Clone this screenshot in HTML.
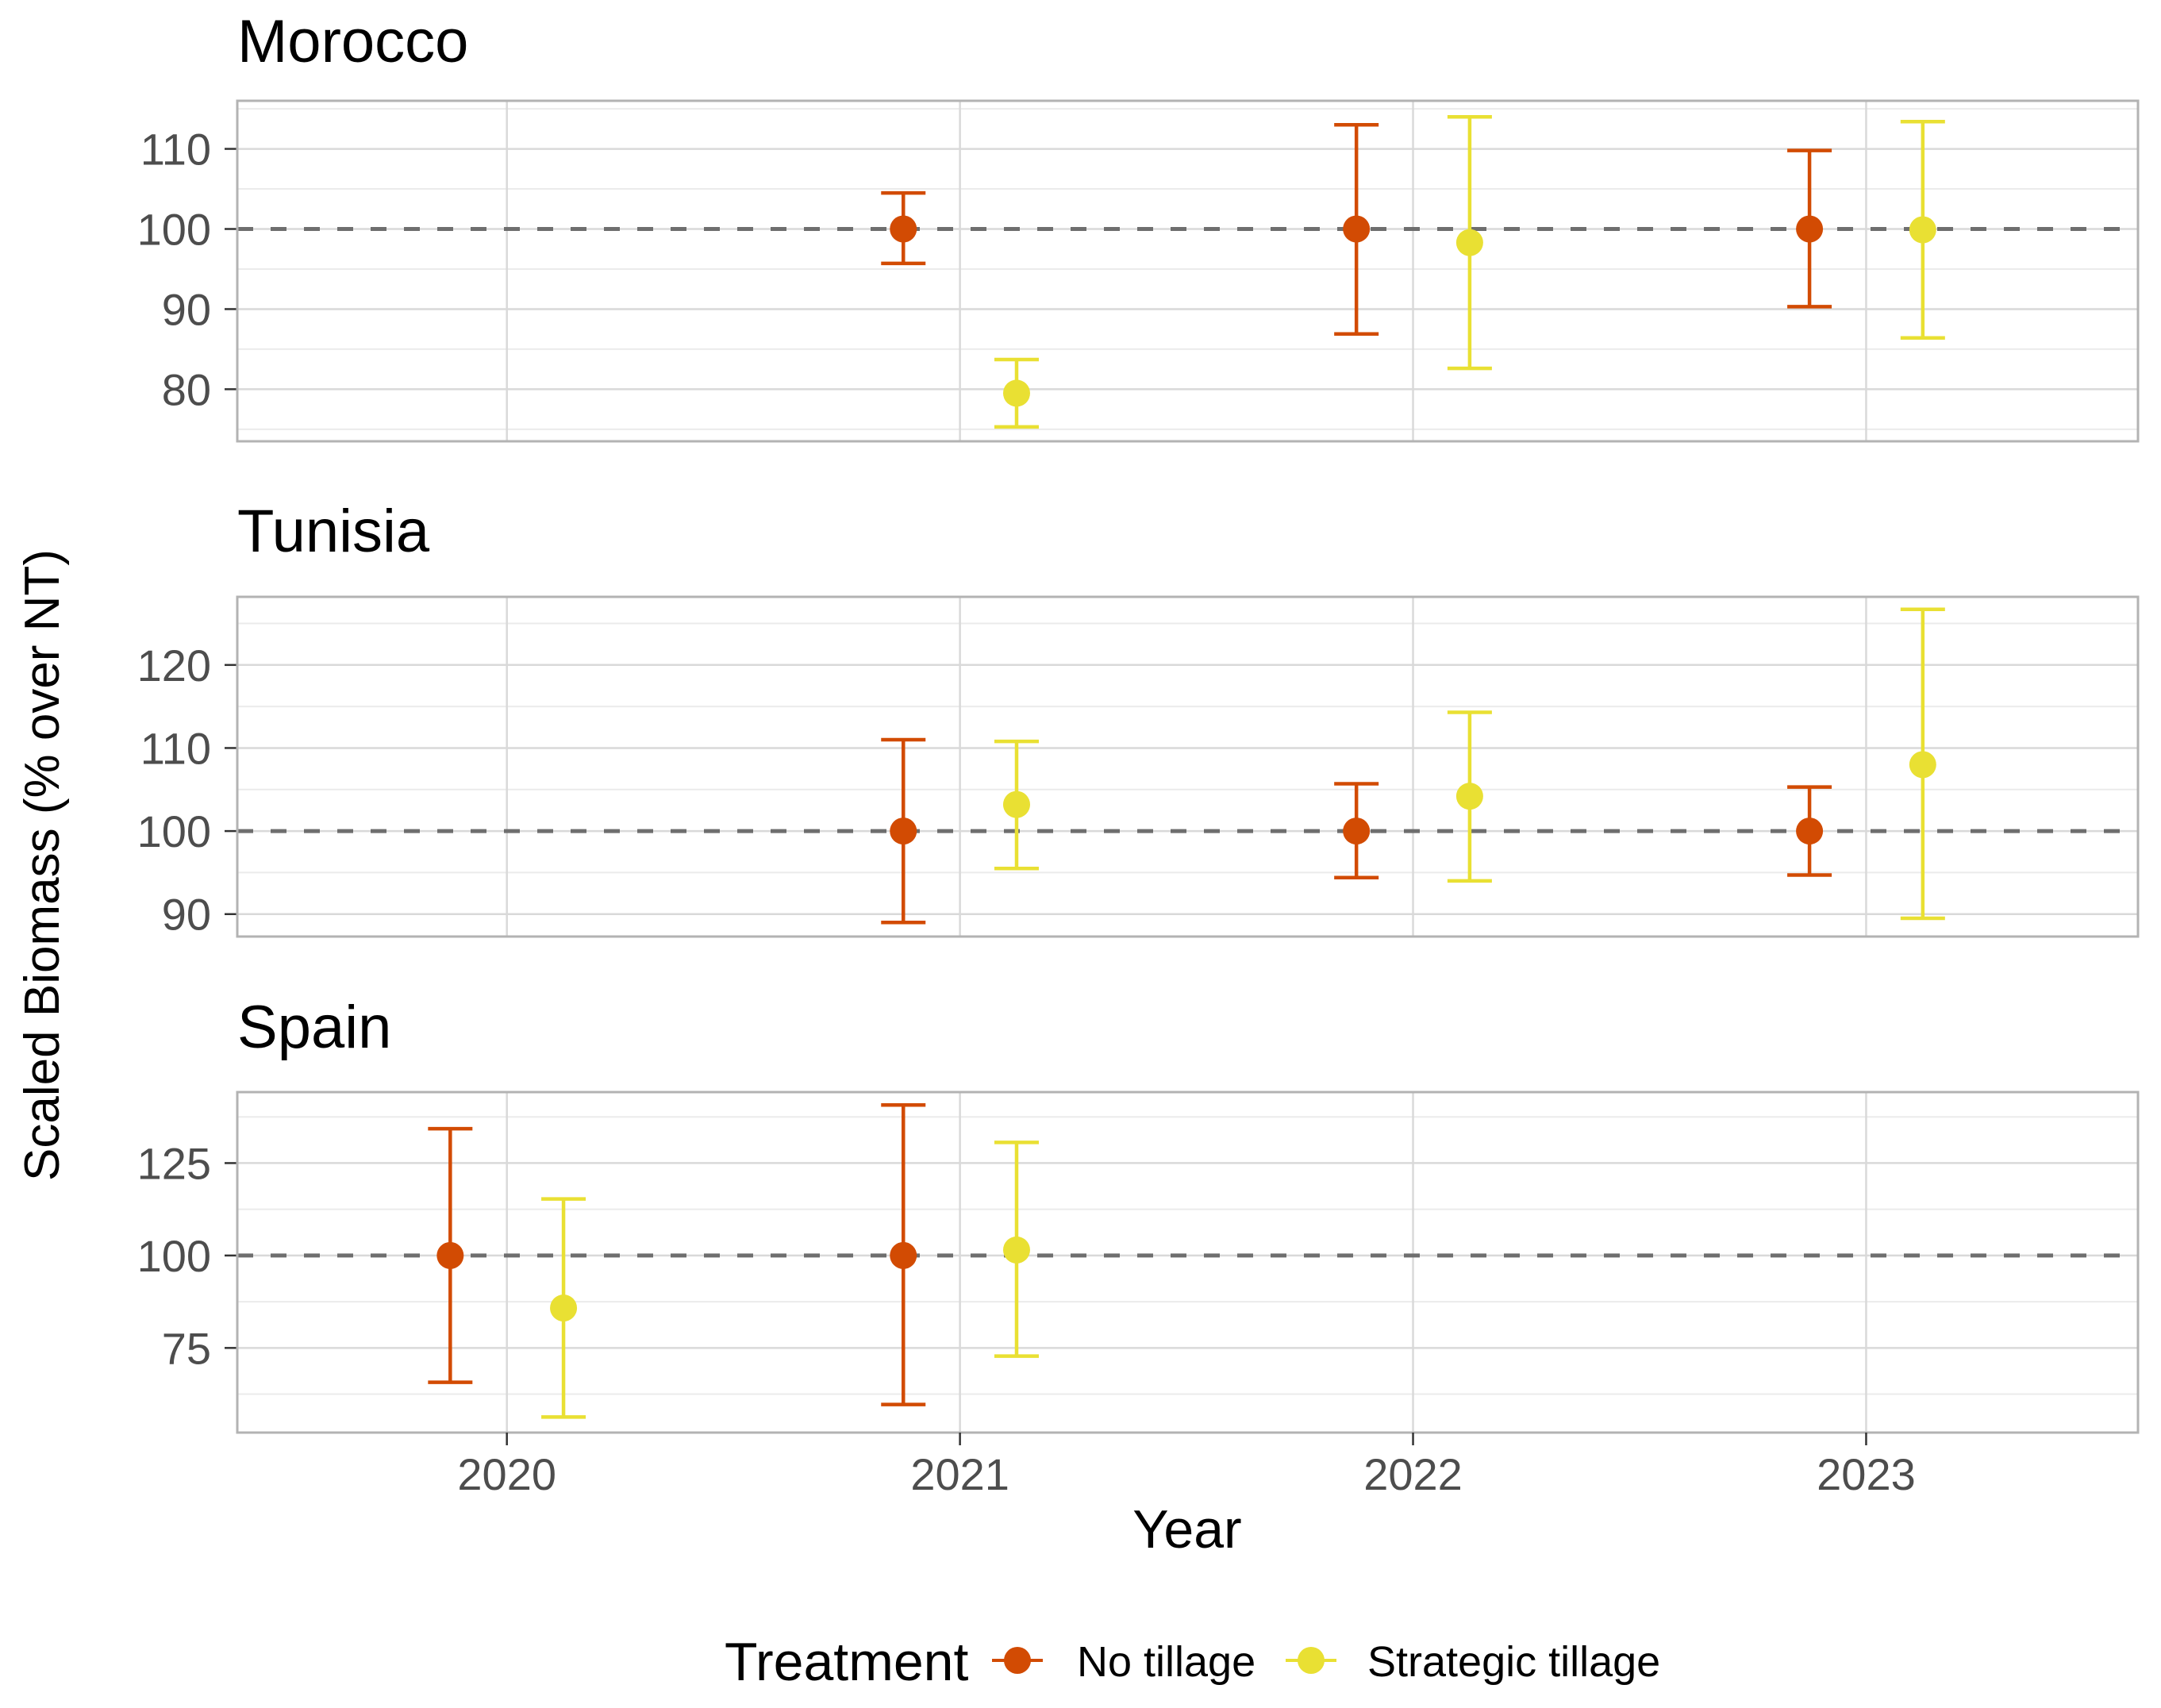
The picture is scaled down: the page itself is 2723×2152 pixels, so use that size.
<!DOCTYPE html>
<html><head><meta charset="utf-8"><style>
html,body{margin:0;padding:0;background:#fff}
svg{display:block}
text{font-family:"Liberation Sans",sans-serif}
</style></head><body>
<svg id="chart" width="2723" height="2152" viewBox="0 0 2723 2152" xmlns="http://www.w3.org/2000/svg"></svg>
<script>
const years = [2020, 2021, 2022, 2023];
const panelNames = ["Morocco", "Tunisia", "Spain"];
// per panel: [year, mean, lower, upper]
const ntMorocco = [[2021,100,95.7,104.5],[2022,100,86.9,113.0],[2023,100,90.3,109.8]];
const stMorocco = [[2021,79.5,75.3,83.7],[2022,98.3,82.6,114.0],[2023,99.9,86.4,113.4]];
const ntTunisia = [[2021,100,89.0,111.0],[2022,100,94.4,105.7],[2023,100,94.7,105.3]];
const stTunisia = [[2021,103.2,95.5,110.8],[2022,104.2,94.0,114.3],[2023,108.0,89.5,126.7]];
const ntSpain = [[2020,100,65.7,134.3],[2021,100,59.7,140.7]];
const stSpain = [[2020,85.8,56.3,115.3],[2021,101.5,72.8,130.6]];
const ticksMorocco = [80,90,100,110];
const ticksTunisia = [90,100,110,120];
const ticksSpain = [75,100,125];
const minorMorocco = [75,85,95,105,115];
const minorTunisia = [95,105,115,125];
const minorSpain = [62.5,87.5,112.5,137.5];
const domMorocco = [73.5,116];
const domTunisia = [87.3,128.2];
const domSpain = [52.1,144.2];

const svg = document.getElementById('chart');
const NS = 'http://www.w3.org/2000/svg';
function mk(tag, attrs, parent){const e=document.createElementNS(NS,tag);for(const k in attrs)e.setAttribute(k,attrs[k]);(parent||svg).appendChild(e);return e;}

const X0=299, X1=2694;
const xDom=[2019.405,2023.6];
const xs = v => X0 + (v-xDom[0])/(xDom[1]-xDom[0])*(X1-X0);
const dodge = 0.125;
const NT="#D24B03", ST="#E9E033";

const panels = [
 {name:"Morocco",top:127,bot:556,dom:domMorocco,ticks:ticksMorocco,minor:minorMorocco,nt:ntMorocco,st:stMorocco,ty:78},
 {name:"Tunisia",top:752,bot:1180,dom:domTunisia,ticks:ticksTunisia,minor:minorTunisia,nt:ntTunisia,st:stTunisia,ty:695},
 {name:"Spain",top:1376,bot:1805,dom:domSpain,ticks:ticksSpain,minor:minorSpain,nt:ntSpain,st:stSpain,ty:1320}
];

panels.forEach((p,pi)=>{
  const ys = v => p.bot - (v-p.dom[0])/(p.dom[1]-p.dom[0])*(p.bot-p.top);
  const g = mk('g',{});
  
  
  const t = mk('text',{x:299,y:p.ty,'font-size':76,fill:'#000'},g); t.textContent=p.name;
  
  
  p.minor.forEach(v=>{ if(v<p.dom[0]||v>p.dom[1])return; const l=mk('line',{x1:X0,x2:X1,y1:ys(v),y2:ys(v),stroke:'#ebebeb','stroke-width':2},g);
     });
  p.ticks.forEach(v=>{ const l=mk('line',{x1:X0,x2:X1,y1:ys(v),y2:ys(v),stroke:'#d9d9d9','stroke-width':2.5},g);
     
    mk('line',{x1:283,x2:X0,y1:ys(v),y2:ys(v),stroke:'#333','stroke-width':2.5},g);
    const tl=mk('text',{x:266,y:ys(v)+20,'font-size':56,fill:'#4d4d4d','text-anchor':'end'},g); tl.textContent=v;
     });
  years.forEach(y=>{ const l=mk('line',{x1:xs(y),x2:xs(y),y1:p.top,y2:p.bot,stroke:'#d9d9d9','stroke-width':2.5},g);
     });
  const ref=mk('line',{x1:X0,x2:X1,y1:ys(100),y2:ys(100),stroke:'#6e6e6e','stroke-width':5,'stroke-dasharray':'20 22'},g);
   
  [[p.nt,NT,-dodge,'no-tillage'],[p.st,ST,dodge,'strategic-tillage']].forEach(([arr,col,off,nm])=>{
    arr.forEach(d=>{
      const cx=xs(d[0]+off);
      const e=mk('g',{},g);
      
      
      mk('line',{x1:cx,x2:cx,y1:ys(d[2]),y2:ys(d[3]),stroke:col,'stroke-width':4.5},e);
      mk('line',{x1:cx-28,x2:cx+28,y1:ys(d[2]),y2:ys(d[2]),stroke:col,'stroke-width':4.5},e);
      mk('line',{x1:cx-28,x2:cx+28,y1:ys(d[3]),y2:ys(d[3]),stroke:col,'stroke-width':4.5},e);
      const c=mk('circle',{cx:cx,cy:ys(d[1]),r:17,fill:col},e);
      
      
    });
  });
  const b=mk('rect',{x:X0,y:p.top,width:X1-X0,height:p.bot-p.top,fill:'none',stroke:'#b3b3b3','stroke-width':3},g);
   
});
years.forEach(y=>{
  mk('line',{x1:xs(y),x2:xs(y),y1:1805,y2:1821,stroke:'#333','stroke-width':2.5});
  const t=mk('text',{x:xs(y),y:1877,'font-size':56,fill:'#4d4d4d','text-anchor':'middle'}); t.textContent=y;
   
});
</script>
<svg style="position:absolute;left:0;top:0" width="2723" height="2152" xmlns="http://www.w3.org/2000/svg">
<text x="1496" y="1950" font-size="68" text-anchor="middle" fill="#000">Year</text>
<text x="0" y="0" font-size="62" text-anchor="middle" fill="#000" transform="translate(74,1090) rotate(-90)">Scaled Biomass (% over NT)</text>
<g>
<text x="913" y="2117" font-size="68" fill="#000">Treatment</text>
<g>
<line x1="1250" x2="1314" y1="2092" y2="2092" stroke="#D24B03" stroke-width="4"/>
<circle cx="1282" cy="2092" r="17" fill="#D24B03"/>
<text x="1357" y="2112" font-size="54" fill="#000">No tillage</text>
</g>
<g>
<line x1="1620" x2="1684" y1="2092" y2="2092" stroke="#E9E033" stroke-width="4"/>
<circle cx="1652" cy="2092" r="17" fill="#E9E033"/>
<text x="1723" y="2112" font-size="54" fill="#000">Strategic tillage</text>
</g>
</g>
</svg>
</body></html>
